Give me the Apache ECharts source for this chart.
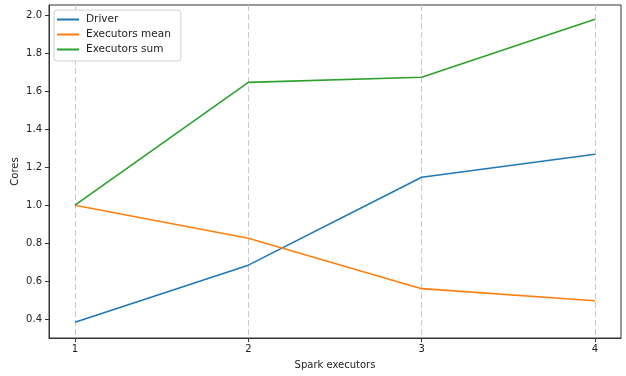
<!DOCTYPE html>
<html><head><meta charset="utf-8">
<script src="https://cdn.jsdelivr.net/npm/echarts@6/dist/echarts.min.js"></script>
<style>html,body{margin:0;padding:0;background:#fff}#c{width:626px;height:376px}</style>
</head><body><div id="c"></div>
<script>
var executors = [1, 2, 3, 4];
var driver = [0.383, 0.684, 1.147, 1.268];
var executorsMean = [1.0, 0.826, 0.560, 0.496];
var executorsSum = [1.0, 1.647, 1.674, 1.980];
var xTicks = [1, 2, 3, 4];
var yTicks = [0.4, 0.6, 0.8, 1.0, 1.2, 1.4, 1.6, 1.8, 2.0];

function pairs(xs, ys){ return xs.map(function(x,i){return [x, ys[i]];}); }
var font = 'DejaVu Sans';
var chart = echarts.init(document.getElementById('c'));
chart.setOption({
  animation: false,
  backgroundColor: '#fff',
  textStyle: {fontFamily: font},
  grid: {left: 49, right: 5, top: 5, bottom: 38, outerBoundsMode: 'none', containLabel: false,
    show: true, borderColor: '#333', borderWidth: 1, backgroundColor: 'transparent'},
  legend: {
    orient: 'vertical', left: 54, top: 10,
    icon: 'rect', itemWidth: 22, itemHeight: 2, itemGap: 4,
    padding: [4, 10, 6, 3],
    backgroundColor: '#fff', borderColor: '#d0d0d0', borderWidth: 1, borderRadius: 3,
    textStyle: {fontFamily: font, fontSize: 10.5, color: '#222', padding: [0, 0, 0, 2]},
    data: ['Driver', 'Executors mean', 'Executors sum']
  },
  xAxis: {
    type: 'value', min: 0.85, max: 4.15,
    name: 'Spark executors', nameLocation: 'middle', nameGap: 22, nameMoveOverlap: false,
    nameTextStyle: {fontFamily: font, fontSize: 10, color: '#222'},
    axisLine: {show: true, lineStyle: {color: '#333'}},
    axisTick: {show: true, length: 4, customValues: xTicks, lineStyle: {color: '#333'}},
    axisLabel: {customValues: xTicks, fontFamily: font, fontSize: 10, color: '#222', margin: 6},
    splitLine: {show: true, lineStyle: {color: '#c8c8c8', type: [6, 3], width: 1}}
  },
  yAxis: {
    type: 'value', min: 0.3, max: 2.055,
    name: 'Cores', nameLocation: 'middle', nameGap: 29, nameMoveOverlap: false,
    nameTextStyle: {fontFamily: font, fontSize: 10, color: '#222'},
    axisLine: {show: true, lineStyle: {color: '#333'}},
    axisTick: {show: true, length: 4, customValues: yTicks, lineStyle: {color: '#333'}},
    axisLabel: {customValues: yTicks, fontFamily: font, fontSize: 10, color: '#222', margin: 7,
      formatter: function(v){ return v.toFixed(1); }},
    splitLine: {show: false}
  },
  series: [
    {name: 'Driver', type: 'line', data: pairs(executors, driver), symbol: 'none', lineStyle: {width: 1.6, color: '#1f77b4'}, itemStyle: {color: '#1f77b4'}},
    {name: 'Executors mean', type: 'line', data: pairs(executors, executorsMean), symbol: 'none', lineStyle: {width: 1.6, color: '#ff7f0e'}, itemStyle: {color: '#ff7f0e'}},
    {name: 'Executors sum', type: 'line', data: pairs(executors, executorsSum), symbol: 'none', lineStyle: {width: 1.6, color: '#2ca02c'}, itemStyle: {color: '#2ca02c'}}
  ]
});
</script></body></html>
